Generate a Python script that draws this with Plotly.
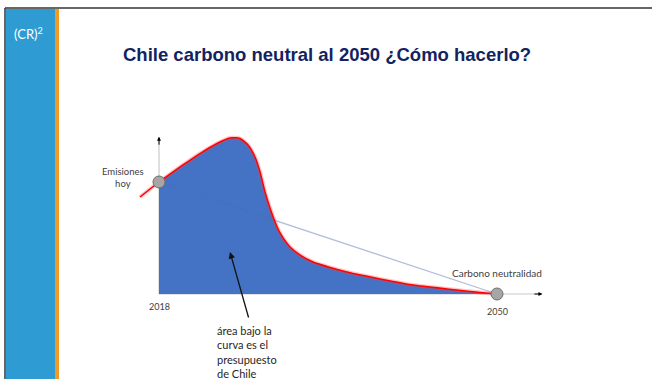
import plotly.graph_objects as go

# Emissions pathway (index, today's emissions = 100) by year
path_years = [2016.2, 2018.0, 2019.04, 2020.27, 2021.88, 2023.49, 2024.72, 2025.67, 2026.43,
              2027.09, 2027.57, 2028.04, 2028.51, 2028.99, 2029.46, 2030.40, 2031.36,
              2032.58, 2034.19, 2035.80, 2038.92, 2042.05, 2045.27, 2048.39, 2050.0]
path_values = [86.6, 100.0, 107.1, 115.2, 125.4, 134.4, 139.3, 138.8, 133.0,
               122.3, 108.9, 91.1, 76.8, 64.3, 54.5, 42.0, 34.8,
               28.6, 23.7, 19.6, 13.4, 8.0, 4.5, 1.4, 0.0]

# Reference points: emissions today and carbon neutrality
milestone_years = [2018, 2050]
milestone_values = [100, 0]
milestone_labels = ["2018", "2050"]

title_text = "Chile carbono neutral al 2050 ¿Cómo hacerlo?"
budget_note = "área bajo la<br>curva es el<br>presupuesto<br>de Chile"

W, H = 652, 379
# pixel scale of the drawing area
X0_PX, PX_PER_YEAR = 159, 10.5625
Y0_PX, PX_PER_UNIT = 294, 1.12
x_range = [2018 - X0_PX / PX_PER_YEAR, 2018 + (W - X0_PX) / PX_PER_YEAR]
y_range = [-(H - Y0_PX) / PX_PER_UNIT, Y0_PX / PX_PER_UNIT]


def px(x, y):
    """Convert pixel position to paper coordinates."""
    return x / W, 1 - y / H


fill_years = [y for y in path_years if y >= 2018]
fill_values = [v for y, v in zip(path_years, path_values) if y >= 2018]
SMOOTH = 0.6

fig = go.Figure()

# budget area under the curve
fig.add_trace(go.Scatter(
    x=fill_years, y=fill_values, mode="lines",
    line=dict(width=0, shape="spline", smoothing=SMOOTH),
    fill="tozeroy", fillcolor="#4472C4", hoverinfo="skip"))

# linear reduction line
fig.add_trace(go.Scatter(
    x=milestone_years, y=milestone_values, mode="lines",
    line=dict(color="rgba(80,110,175,0.45)", width=1.3), hoverinfo="skip"))

# emissions curve with soft glow
fig.add_trace(go.Scatter(
    x=path_years, y=path_values, mode="lines",
    line=dict(color="rgba(255,60,60,0.3)", width=4, shape="spline", smoothing=SMOOTH),
    hoverinfo="skip"))
fig.add_trace(go.Scatter(
    x=path_years, y=path_values, mode="lines",
    line=dict(color="#FF0000", width=1.5, shape="spline", smoothing=SMOOTH),
    hoverinfo="skip"))

# milestone markers
fig.add_trace(go.Scatter(
    x=milestone_years, y=milestone_values, mode="markers",
    marker=dict(size=12, color="#A6A6A6", line=dict(color="#6E6E6E", width=1)),
    hoverinfo="skip"))

shapes = []
# slide frame: side bar, accent stripe, border lines
bx0, by0 = px(6, 9)
bx1, _ = px(55, 0)
shapes.append(dict(type="rect", xref="paper", yref="paper", x0=bx0, x1=bx1, y0=0, y1=by0,
                   fillcolor="#2E9BD3", line_width=0, layer="above"))
ox0, _ = px(55, 0)
ox1, _ = px(59, 0)
shapes.append(dict(type="rect", xref="paper", yref="paper", x0=ox0, x1=ox1, y0=0, y1=by0,
                   fillcolor="#F39A25", line_width=0, layer="above"))
lx, ly = px(5, 8)
shapes.append(dict(type="line", xref="paper", yref="paper", x0=lx, x1=1, y0=ly, y1=ly,
                   line=dict(color="#333333", width=1.5), layer="above"))
shapes.append(dict(type="line", xref="paper", yref="paper", x0=lx, x1=lx, y0=0, y1=ly,
                   line=dict(color="#333333", width=1.5), layer="above"))

# chart axes
shapes.append(dict(type="line", xref="x", yref="y", x0=2018, x1=2018, y0=0, y1=139,
                   line=dict(color="#BFBFBF", width=1), layer="below"))
shapes.append(dict(type="line", xref="x", yref="y", x0=2018, x1=2054.0, y0=0, y1=0,
                   line=dict(color="#C8C8C8", width=1), layer="below"))

annotations = []
# axis arrowheads
annotations.append(dict(x=2018, y=140.5, ax=2018, ay=132, xref="x", yref="y",
                        axref="x", ayref="y", text="", showarrow=True,
                        arrowhead=2, arrowsize=0.8, arrowwidth=1, arrowcolor="#000000"))
annotations.append(dict(x=2054.3, y=0, ax=2053.4, ay=0, xref="x", yref="y",
                        axref="x", ayref="y", text="", showarrow=True,
                        arrowhead=2, arrowsize=0.8, arrowwidth=1, arrowcolor="#000000"))

# logo
gx, gy = px(12, 33)
annotations.append(dict(x=gx, y=gy, xref="paper", yref="paper", showarrow=False,
                        xanchor="left", yanchor="middle",
                        text="(CR)<sup>2</sup>",
                        font=dict(family="Lato", size=13, color="white")))
# title
tx, ty = px(327, 55)
annotations.append(dict(x=tx, y=ty, xref="paper", yref="paper", showarrow=False,
                        xanchor="center", yanchor="middle",
                        text="<b>" + title_text + "</b>",
                        font=dict(family="Liberation Sans", size=18.5, color="#13235F")))

label_font = dict(family="Lato", size=9.5, color="#404040")
ex, ey = px(123, 178)
annotations.append(dict(x=ex, y=ey, xref="paper", yref="paper", showarrow=False,
                        xanchor="center", yanchor="middle",
                        text="Emisiones<br>hoy", align="center", font=label_font))
annotations.append(dict(x=milestone_years[1], y=milestone_values[1], xref="x", yref="y",
                        yshift=21, showarrow=False, text="Carbono neutralidad",
                        xanchor="center", yanchor="middle",
                        font=dict(family="Lato", size=10, color="#404040")))
for yr, val, lab in zip(milestone_years, milestone_values, milestone_labels):
    annotations.append(dict(x=yr, y=0, xref="x", yref="y", yshift=-12 if yr == 2018 else -17,
                            showarrow=False, text=lab, xanchor="center", yanchor="middle",
                            font=dict(family="Lato", size=9, color="#404040")))

# note with arrow pointing into the area
annotations.append(dict(x=2024.72, y=37.5, ax=2026.52, ay=-22.3, xref="x", yref="y",
                        axref="x", ayref="y", text="", showarrow=True,
                        arrowhead=2, arrowsize=1, arrowwidth=1.3, arrowcolor="#111111"))
nx, ny = px(215, 352)
annotations.append(dict(x=nx, y=ny, xref="paper", yref="paper", showarrow=False,
                        xanchor="left", yanchor="middle", align="left", text=budget_note,
                        font=dict(family="Lato", size=11, color="#262626")))

fig.update_layout(
    width=W, height=H, margin=dict(l=0, r=0, t=0, b=0),
    paper_bgcolor="white", plot_bgcolor="white", showlegend=False,
    xaxis=dict(range=x_range, visible=False, fixedrange=True),
    yaxis=dict(range=y_range, visible=False, fixedrange=True),
    shapes=shapes, annotations=annotations)

fig.write_html("out.html")
